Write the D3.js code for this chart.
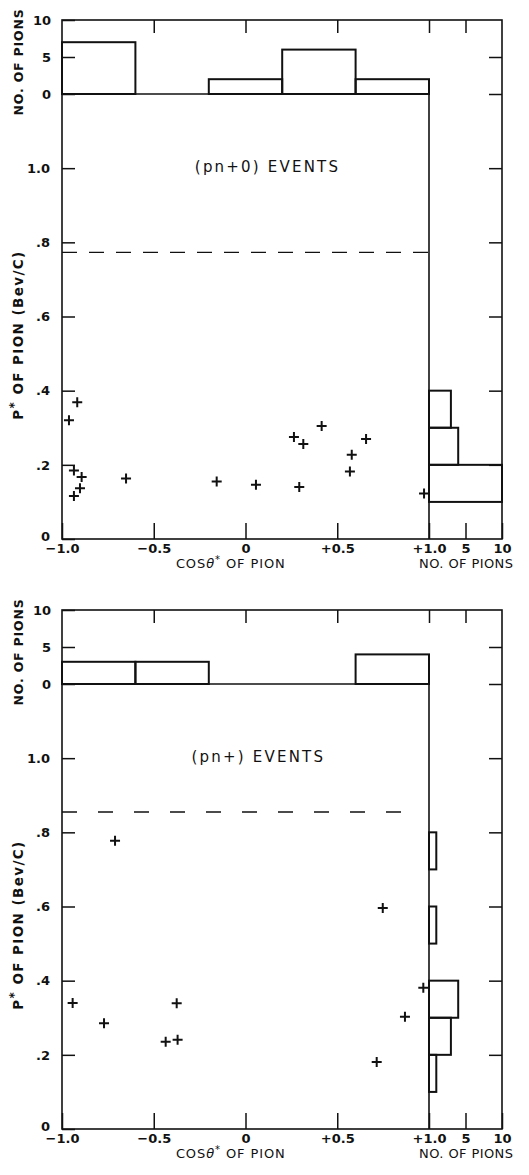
<!DOCTYPE html>
<html>
<head>
<meta charset="utf-8">
<script src="https://cdnjs.cloudflare.com/ajax/libs/d3/7.8.5/d3.min.js"></script>
<style>
  body { margin: 0; background: #fff; }
  svg text { font-family: "DejaVu Sans", sans-serif; fill: #111; }
</style>
</head>
<body>
<div id="chart"></div>
<script>
// cos(theta*) bins used by the top histograms
const cosEdges = [-1.0, -0.6, -0.2, 0.2, 0.6, 1.0];
const pn0CosCounts = [7, 0, 2, 6, 2];
const pnpCosCounts = [3, 3, 0, 0, 4];

// p* bins (Bev/c) used by the side histograms
const pEdges = [0, 0.1, 0.2, 0.3, 0.4, 0.5, 0.6, 0.7, 0.8];
const pn0PCounts = [0, 10, 4, 3, 0, 0, 0, 0];
const pnpPCounts = [0, 1, 3, 4, 0, 1, 0, 1];

// (pn+0) events
const pn0Cos = [-0.962, -0.917, -0.935, -0.893, -0.902, -0.935, -0.651, -0.157, 0.057, 0.264, 0.315, 0.293, 0.415, 0.569, 0.579, 0.657, 0.973];
const pn0P   = [0.320, 0.369, 0.185, 0.167, 0.137, 0.116, 0.163, 0.155, 0.146, 0.275, 0.256, 0.140, 0.305, 0.182, 0.227, 0.270, 0.123];

// (pn+) events
const pnpCos = [-0.942, -0.711, -0.771, -0.435, -0.370, -0.375, 0.748, 0.715, 0.869, 0.969];
const pnpP   = [0.340, 0.777, 0.285, 0.235, 0.241, 0.339, 0.596, 0.181, 0.303, 0.381];

// kinematic limits (dashed lines)
const pn0Limit = 0.773;
const pnpLimit = 0.855;

const cosTicks = [-1.0, -0.5, 0, 0.5, 1.0];
const cosTickLabels = ["\u22121.0", "\u22120.5", "0", "+0.5", "+1.0"];
const pTicks = [0, 0.2, 0.4, 0.6, 0.8, 1.0];
const pTickLabels = ["0", ".2", ".4", ".6", ".8", "1.0"];
const countTicks = [0, 5, 10];

const W = 529, H = 1175;
const left = 62, mid = 429, right = 502;
const histH = 74, mainH = 445;

const svg = d3.select('#chart').append('svg')
  .attr('width', W)
  .attr('height', H);

const drawPanel = (top, cfg) => {
  const g = svg.append('g');

  const x = d3.scaleLinear().domain([-1, 1]).range([left, mid]);
  const xc = d3.scaleLinear().domain([0, 10]).range([mid, right]);
  const yh = d3.scaleLinear().domain([0, 10]).range([top + histH, top]);
  const yp = d3.scaleLinear().domain([0, 1.2]).range([top + histH + mainH, top + histH]);

  // frame
  g.append('rect')
    .attr('x', left).attr('y', top)
    .attr('width', right - left).attr('height', histH + mainH)
    .attr('fill', 'none').attr('stroke', '#111').attr('stroke-width', 1.6);

  // baseline of the top histogram and of the side histogram
  g.append('line')
    .attr('x1', x(-1)).attr('x2', x(1))
    .attr('y1', yh(0)).attr('y2', yh(0))
    .attr('stroke', '#111').attr('stroke-width', 1.6);
  g.append('line')
    .attr('x1', xc(0)).attr('x2', xc(0))
    .attr('y1', yp(0)).attr('y2', yp(1.2))
    .attr('stroke', '#111').attr('stroke-width', 1.6);

  // top histogram
  const topBins = cfg.cosCounts.map((c, i) => ({ a: cosEdges[i], b: cosEdges[i + 1], c })).filter(d => d.c > 0);
  g.selectAll('.hbar')
    .data(topBins)
    .join('rect')
    .attr('class', 'hbar')
    .attr('x', d => x(d.a))
    .attr('y', d => yh(d.c))
    .attr('width', d => x(d.b) - x(d.a))
    .attr('height', d => yh(0) - yh(d.c))
    .attr('fill', 'none').attr('stroke', '#111').attr('stroke-width', 2);

  // side histogram
  const sideBins = cfg.pCounts.map((c, i) => ({ a: pEdges[i], b: pEdges[i + 1], c })).filter(d => d.c > 0);
  g.selectAll('.vbar')
    .data(sideBins)
    .join('rect')
    .attr('class', 'vbar')
    .attr('x', xc(0))
    .attr('y', d => yp(d.b))
    .attr('width', d => xc(d.c) - xc(0))
    .attr('height', d => yp(d.a) - yp(d.b))
    .attr('fill', 'none').attr('stroke', '#111').attr('stroke-width', 2);

  // dashed limit
  g.append('line')
    .attr('x1', x(-1)).attr('x2', x(cfg.limitEnd))
    .attr('y1', yp(cfg.limit)).attr('y2', yp(cfg.limit))
    .attr('stroke', '#111').attr('stroke-width', 1.4)
    .attr('stroke-dasharray', cfg.dash);

  // events
  const pts = cfg.cos.map((c, i) => ({ c, p: cfg.p[i] }));
  g.selectAll('.pt')
    .data(pts)
    .join('path')
    .attr('class', 'pt')
    .attr('transform', d => `translate(${x(d.c)},${yp(d.p)})`)
    .attr('d', 'M-5,0H5M0,-5V5')
    .attr('stroke', '#111').attr('stroke-width', 2);

  const styleAxis = (sel) => {
    sel.select('.domain').remove();
    sel.selectAll('.tick line').attr('stroke', '#111').attr('stroke-width', 1.5);
    sel.selectAll('.tick text')
      .attr('font-family', '"DejaVu Sans", sans-serif')
      .attr('font-size', 13).attr('font-weight', 'bold').attr('fill', '#111');
    sel.attr('font-family', null).attr('font-size', null);
  };

  // left axes
  g.append('g').attr('transform', `translate(${left},0)`)
    .call(d3.axisLeft(yp).tickValues(pTicks).tickFormat((d, i) => pTickLabels[i]).tickSize(-13).tickPadding(12))
    .call(styleAxis)
    .selectAll('.tick text').filter(d => d === 0).attr('dy', '0.1em');
  g.append('g').attr('transform', `translate(${left},0)`)
    .call(d3.axisLeft(yh).tickValues(countTicks).tickFormat(d3.format('d')).tickSize(-13).tickPadding(11))
    .call(styleAxis);

  // right edge ticks
  g.append('g').attr('transform', `translate(${right},0)`)
    .call(d3.axisRight(yp).tickValues(pTicks.slice(1)).tickFormat('').tickSize(-13))
    .call(styleAxis);
  g.append('g').attr('transform', `translate(${right},0)`)
    .call(d3.axisRight(yh).tickValues([0, 5]).tickFormat('').tickSize(-13))
    .call(styleAxis);

  // top edge ticks
  g.append('g').attr('transform', `translate(0,${top})`)
    .call(d3.axisTop(x).tickValues([-0.5, 0, 0.5, 1.0]).tickFormat('').tickSize(-13))
    .call(styleAxis);
  g.append('g').attr('transform', `translate(0,${top})`)
    .call(d3.axisTop(xc).tickValues([5]).tickFormat('').tickSize(-13))
    .call(styleAxis);

  // bottom axes
  g.append('g').attr('transform', `translate(0,${yp(0)})`)
    .call(d3.axisBottom(x).tickValues(cosTicks).tickFormat((d, i) => cosTickLabels[i]).tickSize(-16).tickPadding(5))
    .call(styleAxis);
  g.append('g').attr('transform', `translate(0,${yp(0)})`)
    .call(d3.axisBottom(xc).tickValues([5, 10]).tickFormat(d3.format('d')).tickSize(-16).tickPadding(5))
    .call(styleAxis);

  // titles
  g.append('text')
    .attr('transform', `translate(23,${(yh(0) + yh(10)) / 2 + 5}) rotate(-90)`)
    .attr('text-anchor', 'middle')
    .attr('font-size', 12.5).attr('font-weight', 'bold').attr('letter-spacing', 0.8)
    .text('NO. OF PIONS');

  const yt = g.append('text')
    .attr('transform', `translate(23,${yp(0.55)}) rotate(-90)`)
    .attr('text-anchor', 'middle')
    .attr('font-size', 13.5).attr('font-weight', 'bold').attr('letter-spacing', 1.4);
  yt.append('tspan').text('P');
  yt.append('tspan').attr('dy', -5).attr('font-size', 12).text('*');
  yt.append('tspan').attr('dy', 5).text(' OF PION  (Bev/C)');

  const xt = g.append('text')
    .attr('x', x(-0.08)).attr('y', yp(0) + 29)
    .attr('text-anchor', 'middle')
    .attr('font-size', 13).attr('letter-spacing', 0.9);
  xt.append('tspan').text('COS');
  xt.append('tspan').attr('font-style', 'italic').text('\u03b8');
  xt.append('tspan').attr('dy', -5).attr('font-size', 10).text('*');
  xt.append('tspan').attr('dy', 5).text(' OF  PION');

  g.append('text')
    .attr('x', xc(5.1)).attr('y', yp(0) + 29)
    .attr('text-anchor', 'middle')
    .attr('font-size', 13).attr('letter-spacing', 0.4)
    .text('NO. OF PIONS');

  g.append('text')
    .attr('x', x(cfg.labelCos)).attr('y', yp(0.99))
    .attr('text-anchor', 'middle')
    .attr('font-size', 15)
    .attr('letter-spacing', 2.2)
    .text(cfg.label);
};

drawPanel(20, {
  cosCounts: pn0CosCounts, pCounts: pn0PCounts,
  cos: pn0Cos, p: pn0P,
  limit: pn0Limit, limitEnd: 1.0, dash: '15,12',
  label: '(pn+0) EVENTS', labelCos: 0.12
});

drawPanel(610, {
  cosCounts: pnpCosCounts, pCounts: pnpPCounts,
  cos: pnpCos, p: pnpP,
  limit: pnpLimit, limitEnd: 0.9, dash: '15,21',
  label: '(pn+) EVENTS', labelCos: 0.07
});
</script>
</body>
</html>
